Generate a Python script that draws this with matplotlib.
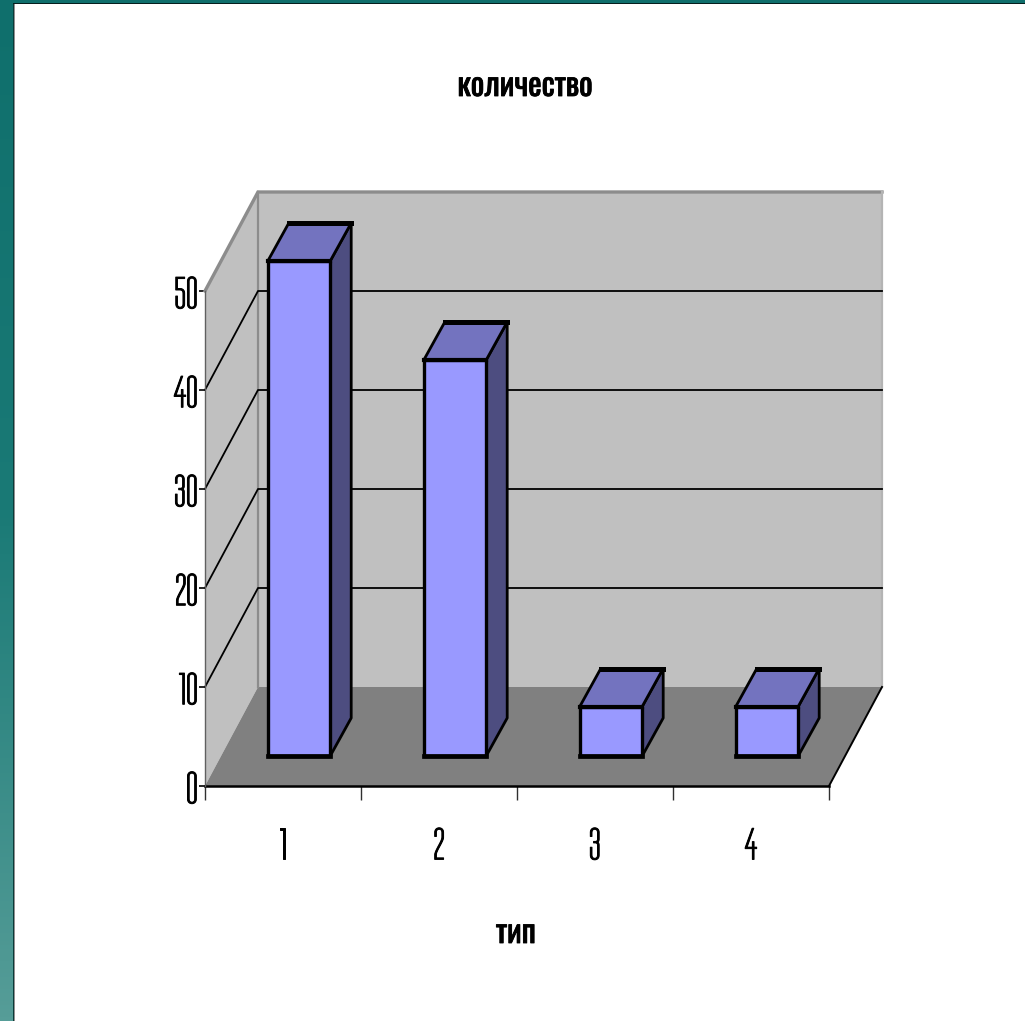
import numpy as np
import matplotlib
matplotlib.use("Agg")
import matplotlib.pyplot as plt
import matplotlib.patheffects as pe
from matplotlib.colors import LinearSegmentedColormap
from matplotlib.patches import Polygon, Rectangle

categories = [1, 2, 3, 4]
values = [50, 40, 5, 5]
y_ticks = [0, 10, 20, 30, 40, 50]
title = "количество"
x_label = "тип"

W, H = 1025, 1021
TICK_FONT = ["Tulpen One", "Pathway Gothic One", "Liberation Sans", "DejaVu Sans"]
TITLE_FONT = ["Oswald", "PT Sans Narrow", "Liberation Sans", "DejaVu Sans"]
plt.rcParams["font.family"] = TICK_FONT

fig = plt.figure(figsize=(W / 100, H / 100), dpi=100, facecolor="white")

# slide background: teal gradient with white panel
bg = fig.add_axes([0, 0, 1, 1], zorder=0)
bg.set_xlim(0, W); bg.set_ylim(H, 0); bg.axis("off")
cmap = LinearSegmentedColormap.from_list("t", ["#0f6f6c", "#1a7a76", "#569d98"])
bg.imshow(np.linspace(0, 1, 256)[:, None], cmap=cmap, extent=(0, W, H, 0), aspect="auto")
bg.add_patch(Rectangle((15, 4), W, H, fc="white", ec="none", zorder=2))
bg.add_patch(Rectangle((13, 3), 1.3, H, fc="#0a3a38", ec="none", zorder=3))
bg.add_patch(Rectangle((14.2, 4), 1.0, H, fc="#909090", ec="none", zorder=3))
bg.add_patch(Rectangle((13, 3), W, 1.4, fc="#061f1e", ec="none", zorder=3))
bg.set_xlim(0, W); bg.set_ylim(H, 0)

# chart axes aligned to the front plane of the 3D box
x0, x1, y0, y1 = 205, 829, 786, 291
ax = fig.add_axes([x0 / W, 1 - y0 / H, (x1 - x0) / W, (y0 - y1) / H], zorder=1)
ax.patch.set_alpha(0)
ax.set_xlim(0.5, 4.5)
ax.set_ylim(0, 50)

ux = (x1 - x0) / 4          # pixels per category
uy = (y0 - y1) / 50         # pixels per value unit
DX, DY = 53 / ux, 99 / uy   # full depth of box in data units
xl, xr = 0.5, 4.5
ymax = max(y_ticks)

def P(pts, **kw):
    kw.setdefault("clip_on", False)
    ax.add_patch(Polygon(pts, closed=True, **kw))

WALL, FLOOR, EDGE = "#c0c0c0", "#808080", "#8c8c8c"
# side wall
P([(xl, 0), (xl + DX, DY), (xl + DX, ymax + DY), (xl, ymax)], fc=WALL, ec="none", zorder=1)
# back wall
P([(xl + DX, DY), (xr + DX, DY), (xr + DX, ymax + DY), (xl + DX, ymax + DY)], fc=WALL, ec="none", zorder=1)
# floor
P([(xl, 0), (xr, 0), (xr + DX, DY), (xl + DX, DY)], fc=FLOOR, ec="none", zorder=2)
# wall outlines
ax.plot([xl, xl + DX, xr + DX], [ymax, ymax + DY, ymax + DY], color=EDGE, lw=2.4,
        clip_on=False, zorder=3, solid_joinstyle="miter")
ax.plot([xr + DX, xr + DX], [ymax + DY, DY], color="#b4b4b4", lw=1.6, clip_on=False, zorder=3)
ax.plot([xl + DX, xl + DX], [DY, ymax + DY], color=EDGE, lw=1.6, clip_on=False, zorder=3)
# grid lines on both walls
for v in y_ticks[1:-1]:
    ax.plot([xl, xl + DX, xr + DX], [v, v + DY, v + DY], color="black", lw=1.3, clip_on=False, zorder=3)
# floor front / right edge
ax.plot([xr, xr + DX], [0, DY], color="black", lw=1.4, clip_on=False, zorder=3)
ax.plot([xl, xr], [0, 0], color="black", lw=1.8, clip_on=False, zorder=4)
ax.plot([xl, xl], [0, ymax], color="#606060", lw=1.0, clip_on=False, zorder=4)

# bars
BW = 0.40
BDX, BDY = 21 / ux, 38 / uy   # bar depth
OX, OY = 16 / ux, 30 / uy     # bar front offset inside the box
FRONT, TOP, SIDE = "#9999ff", "#7373bf", "#4d4d80"
for c, v in zip(categories, values):
    L, R = c - BW / 2 + OX, c + BW / 2 + OX
    B, T = OY, OY + v
    kw = dict(ec="black", joinstyle="round", zorder=5)
    P([(R, B), (R + BDX, B + BDY), (R + BDX, T + BDY), (R, T)], fc=SIDE, lw=2.0, **kw)
    P([(L, T), (R, T), (R + BDX, T + BDY), (L + BDX, T + BDY)], fc=TOP, lw=2.0, **kw)
    ax.plot([L + BDX, R + BDX], [T + BDY, T + BDY], color="black", lw=3.6, clip_on=False, zorder=6)
    P([(L, B), (R, B), (R, T), (L, T)], fc=FRONT, lw=2.4, **kw)
    ax.plot([L, R], [B, B], color="black", lw=3.4, clip_on=False, zorder=6)
    ax.plot([L, R], [T, T], color="black", lw=3.0, clip_on=False, zorder=6)

# axes furniture
for s in ax.spines.values():
    s.set_visible(False)
ax.set_yticks(y_ticks)
ax.set_yticklabels([str(v) for v in y_ticks], fontsize=33)
ax.tick_params(axis="y", length=4, width=1.2, color="black", pad=1)
ax.set_xticks(categories)
ax.set_xticklabels([str(c) for c in categories], fontsize=33)
ax.tick_params(axis="x", which="major", length=0, pad=28)
ax.set_xticks([c - 0.5 for c in categories] + [categories[-1] + 0.5], minor=True)
ax.tick_params(axis="x", which="minor", length=10, width=1.0, color="#303030")

heavy = [pe.withStroke(linewidth=0.7, foreground="black")]
for lab in ax.get_xticklabels() + ax.get_yticklabels():
    lab.set_path_effects(heavy)

bold = [pe.withStroke(linewidth=0.6, foreground="black")]
fig.text(525 / W, 1 - 86 / H, title, fontsize=23, family=TITLE_FONT, ha="center", va="center",
         zorder=5, path_effects=bold)
fig.text(516 / W, 1 - 933 / H, x_label, fontsize=23, family=TITLE_FONT, ha="center", va="center",
         zorder=5, path_effects=bold)

fig.savefig("out.png", dpi=100)
